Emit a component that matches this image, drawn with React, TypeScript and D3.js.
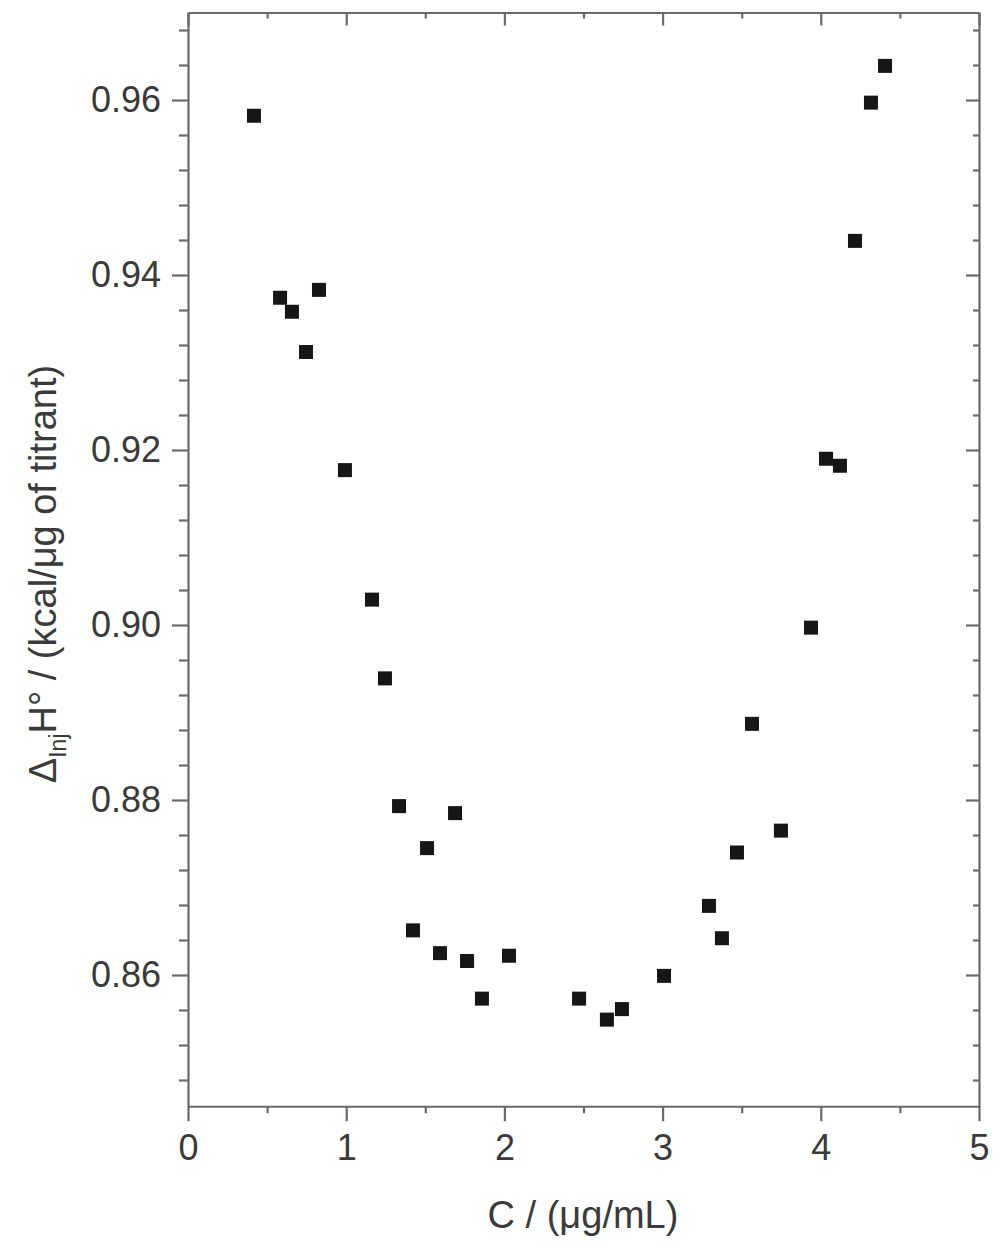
import { useEffect, useRef } from 'react';
import * as d3 from 'd3';

// concentration C (µg/mL)
const concentrations = [
  0.417, 0.582, 0.657, 0.746, 0.828, 0.992, 1.163, 1.245, 1.334, 1.422,
  1.511, 1.593, 1.688, 1.764, 1.858, 2.029, 2.472, 2.648, 2.743, 3.009,
  3.293, 3.375, 3.47, 3.565, 3.748, 3.938, 4.033, 4.121, 4.216, 4.317, 4.406,
];
// ΔInjH° (kcal/µg of titrant)
const enthalpies = [
  0.9582, 0.9374, 0.9358, 0.9312, 0.9383, 0.9177, 0.9029, 0.8939, 0.8793, 0.8651,
  0.8745, 0.8625, 0.8785, 0.8616, 0.8573, 0.8622, 0.8573, 0.8549, 0.8561, 0.8599,
  0.8679, 0.8642, 0.874, 0.8887, 0.8765, 0.8997, 0.919, 0.9182, 0.9439, 0.9597, 0.9639,
];
const xTicks = [0, 1, 2, 3, 4, 5];
const yTicks = [0.86, 0.88, 0.9, 0.92, 0.94, 0.96];

export default function App() {
  const svgRef = useRef<SVGSVGElement>(null);
  const width = 1000;
  const height = 1246;

  useEffect(() => {
    if (!svgRef.current) return;
    const svg = d3.select(svgRef.current);
    svg.selectAll('*').remove();

    const left = 188, right = 979, top = 12.5, bottom = 1106.25;
    const x = d3.scaleLinear().domain([0, 5]).range([left, right]);
    const y = d3.scaleLinear().domain([0.845, 0.97]).range([bottom, top]);

    const axisColor = '#6a6a6a';
    const textColor = '#3a3a3a';
    const font = 'Liberation Sans, Arial, sans-serif';

    // minor tick values
    const xMinor = [0.5, 1.5, 2.5, 3.5, 4.5];
    const yMinor = d3.range(0, 32).map(i => +(0.848 + i * 0.004).toFixed(3))
      .filter(v => v <= 0.97 && !yTicks.some(t => Math.abs(t - v) < 1e-6));

    // bottom axis (outward ticks)
    svg.append('g').attr('transform', `translate(0,${bottom})`)
      .call(d3.axisBottom(x).tickValues(xTicks).tickSize(15).tickSizeOuter(0).tickPadding(13).tickFormat(d3.format('d')));
    svg.append('g').attr('transform', `translate(0,${bottom})`)
      .call(d3.axisBottom(x).tickValues(xMinor).tickSize(7).tickSizeOuter(0).tickFormat(() => ''))
      .select('.domain').remove();

    // left axis (outward ticks)
    svg.append('g').attr('transform', `translate(${left},0)`)
      .call(d3.axisLeft(y).tickValues(yTicks).tickSize(16).tickSizeOuter(0).tickPadding(11).tickFormat(d3.format('.2f')));
    svg.append('g').attr('transform', `translate(${left},0)`)
      .call(d3.axisLeft(y).tickValues(yMinor).tickSize(9).tickSizeOuter(0).tickFormat(() => ''))
      .select('.domain').remove();

    // top axis (inward ticks)
    svg.append('g').attr('transform', `translate(0,${top})`)
      .call(d3.axisTop(x).tickValues(xTicks).tickSize(-13).tickSizeOuter(0).tickFormat(() => ''));
    svg.append('g').attr('transform', `translate(0,${top})`)
      .call(d3.axisTop(x).tickValues(xMinor).tickSize(-6).tickSizeOuter(0).tickFormat(() => ''))
      .select('.domain').remove();

    // right axis (inward ticks)
    svg.append('g').attr('transform', `translate(${right},0)`)
      .call(d3.axisRight(y).tickValues(yTicks).tickSize(-13).tickSizeOuter(0).tickFormat(() => ''));
    svg.append('g').attr('transform', `translate(${right},0)`)
      .call(d3.axisRight(y).tickValues(yMinor).tickSize(-6).tickSizeOuter(0).tickFormat(() => ''))
      .select('.domain').remove();

    svg.selectAll('.domain').attr('stroke', axisColor).attr('stroke-width', 2.2);
    svg.selectAll('.tick line').attr('stroke', axisColor).attr('stroke-width', 2.2);
    svg.selectAll('.tick text')
      .attr('fill', textColor)
      .style('font-family', font)
      .style('font-size', '36px');

    // data squares
    const size = 14;
    svg.append('g')
      .selectAll('rect')
      .data(concentrations.map((c, i) => [c, enthalpies[i]]))
      .enter()
      .append('rect')
      .attr('x', d => x(d[0]) - size / 2)
      .attr('y', d => y(d[1]) - size / 2)
      .attr('width', size)
      .attr('height', size)
      .attr('fill', '#161616');

    // x axis title
    svg.append('text')
      .attr('x', 583)
      .attr('y', 1228)
      .attr('text-anchor', 'middle')
      .attr('fill', textColor)
      .style('font-family', font)
      .style('font-size', '38px')
      .text('C / (μg/mL)');

    // y axis title
    const yt = svg.append('text')
      .attr('transform', 'translate(56,574) rotate(-90)')
      .attr('text-anchor', 'middle')
      .attr('fill', textColor)
      .style('font-family', font)
      .style('font-size', '38px');
    yt.append('tspan').text('Δ');
    yt.append('tspan').attr('dy', 10).style('font-size', '23px').text('Inj');
    yt.append('tspan').attr('dy', -10).text('H°');
    yt.append('tspan').text(' / (kcal/μg of titrant)');
  }, []);

  return (
    <svg
      ref={svgRef}
      width={width}
      height={height}
      style={{ position: 'absolute', left: 0, top: 0, background: '#fff' }}
    />
  );
}
